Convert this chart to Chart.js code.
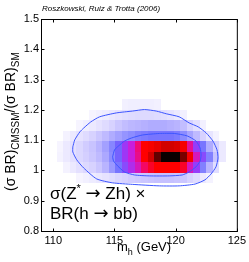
<!DOCTYPE html>
<html><head><meta charset="utf-8">
<script src="https://cdn.jsdelivr.net/npm/chart.js@4.4.1/dist/chart.umd.min.js"></script>
<style>html,body{margin:0;padding:0;background:#fff;overflow:hidden}</style>
</head><body>
<canvas id="c" width="249" height="262"></canvas>
<script>
// ---- data ----
const xTicks = [110, 115, 120, 125];
const xTickLabels = ['110', '115', '120', '125'];
const yTicks = [0.8, 0.9, 1.0, 1.1, 1.2, 1.3, 1.4, 1.5];
const yTickLabels = ['0.8', '0.9', '1', '1.1', '1.2', '1.3', '1.4', '1.5'];

// heat-map bin centres
const cellX = [110.57,111.10,111.63,112.16,112.69,113.22,113.75,114.28,114.81,115.34,115.87,116.40,116.93,
               117.46,117.99,118.52,119.05,119.58,120.11,120.64,121.17,121.70,122.23,122.76,123.29,123.82];
const cellY = [0.975, 1.009, 1.044, 1.079, 1.113, 1.148, 1.183, 1.218];
// relative posterior density, one row per cellY
const heat = [
 [0,0,0,0.05,0.07,0.09,0.11,0.13,0.15,0.18,0.2,0.22,0.23,0.24,0.25,0.26,0.26,0.26,0.25,0.24,0.2,0.16,0.1,0.06,0,0],
 [0,0.06,0.1,0.14,0.17,0.2,0.24,0.3,0.37,0.44,0.5,0.55,0.6,0.65,0.68,0.7,0.7,0.7,0.7,0.68,0.6,0.52,0.42,0.3,0.15,0],
 [0.06,0.1,0.14,0.18,0.21,0.24,0.28,0.33,0.4,0.47,0.53,0.58,0.63,0.7,0.8,0.92,1,1,1,0.9,0.72,0.6,0.5,0.42,0.25,0.1],
 [0.05,0.1,0.14,0.18,0.22,0.25,0.3,0.35,0.41,0.47,0.53,0.58,0.64,0.7,0.72,0.75,0.8,0.8,0.78,0.72,0.62,0.52,0.44,0.32,0.2,0.1],
 [0,0.06,0.1,0.13,0.16,0.2,0.24,0.28,0.32,0.35,0.38,0.4,0.42,0.43,0.44,0.44,0.44,0.44,0.43,0.4,0.34,0.28,0.2,0.12,0.06,0],
 [0,0,0,0.05,0.08,0.1,0.13,0.16,0.2,0.24,0.27,0.29,0.3,0.31,0.32,0.32,0.32,0.31,0.3,0.27,0.2,0.14,0.07,0,0,0],
 [0,0,0,0,0,0.05,0.07,0.09,0.11,0.13,0.15,0.16,0.17,0.17,0.17,0.16,0.15,0.13,0.1,0.07,0,0,0,0,0,0],
 [0,0,0,0,0,0,0,0,0,0,0.07,0.08,0.08,0.08,0.08,0.07,0,0,0,0,0,0,0,0,0,0]
];
// contours
const outerX = [111.60,111.76,112.17,112.49,113.06,113.79,115.17,116.47,117.45,118.42,119.24,120.29,121.10,121.84,122.49,123.05,123.38,123.46,123.30,122.89,122.40,121.59,120.29,118.67,116.47,114.85,113.55,112.49,111.92,111.60];
const outerY = [1.078,1.101,1.127,1.140,1.160,1.177,1.190,1.196,1.201,1.196,1.187,1.177,1.157,1.144,1.124,1.097,1.068,1.041,1.012,0.988,0.969,0.955,0.949,0.949,0.954,0.959,0.972,1.008,1.035,1.061];
const innerX = [114.85,115.01,115.34,115.82,116.39,117.29,118.67,119.89,120.94,121.67,122.00,122.08,122.00,121.67,121.10,120.54,119.48,117.85,116.64,115.82,115.26,114.93];
const innerY = [1.045,1.068,1.081,1.097,1.107,1.117,1.122,1.122,1.114,1.097,1.074,1.051,1.031,1.012,0.995,0.985,0.982,0.982,0.985,0.995,1.015,1.031];

// ---- style ----
const FONT = '"Liberation Sans", Arial, Helvetica, sans-serif';
const SYM = '"DejaVu Sans", sans-serif';
const CMAP = [
 [0.0,255,255,255],[0.08,240,238,255],[0.2,215,210,255],[0.3,185,180,255],[0.4,140,140,255],
 [0.46,110,105,255],[0.52,150,60,250],[0.58,200,30,220],[0.64,240,10,120],[0.7,255,0,0],
 [0.8,210,0,0],[0.9,120,0,0],[1.0,10,0,0]
];
function cmap(t){
  if (t <= 0) return null;
  for (let i=1;i<CMAP.length;i++){
    if (t <= CMAP[i][0]){
      const a=CMAP[i-1], b=CMAP[i], f=(t-a[0])/(b[0]-a[0]);
      return `rgb(${Math.round(a[1]+(b[1]-a[1])*f)},${Math.round(a[2]+(b[2]-a[2])*f)},${Math.round(a[3]+(b[3]-a[3])*f)})`;
    }
  }
  return 'rgb(10,0,0)';
}
function edges(c){
  const e=[c[0]-(c[1]-c[0])/2];
  for(let i=1;i<c.length;i++) e.push((c[i-1]+c[i])/2);
  e.push(c[c.length-1]+(c[c.length-1]-c[c.length-2])/2);
  return e;
}
const zip=(xs,ys)=>{const d=xs.map((x,i)=>({x,y:ys[i]}));d.push({x:xs[0],y:ys[0]});return d;};

function runs(ctx, x, baseline, parts){
  parts.forEach(([s,font,dy])=>{ctx.font=font; ctx.fillText(s,x,baseline+dy); x+=ctx.measureText(s).width;});
}

const heatPlugin = {
  id:'heat',
  beforeDatasetsDraw(chart){
    const {ctx, scales:{x,y}, chartArea:a} = chart;
    const ex=edges(cellX), ey=edges(cellY);
    ctx.save();
    ctx.beginPath(); ctx.rect(a.left,a.top,a.width,a.height); ctx.clip();
    for(let r=0;r<cellY.length;r++){
      const y1=Math.round(y.getPixelForValue(ey[r+1])), y0=Math.round(y.getPixelForValue(ey[r]));
      for(let c=0;c<cellX.length;c++){
        const col=cmap(heat[r][c]); if(!col) continue;
        const x0=Math.round(x.getPixelForValue(ex[c])), x1=Math.round(x.getPixelForValue(ex[c+1]));
        ctx.fillStyle=col; ctx.fillRect(x0,y1,x1-x0,y0-y1);
      }
    }
    ctx.restore();
  },
  afterDraw(chart){
    const {ctx, scales:{x,y}, chartArea:a} = chart;
    ctx.save();
    ctx.strokeStyle='#000'; ctx.lineWidth=1;
    const L=a.left+0.5, R=a.right+0.5, T=a.top+0.5, B=a.bottom+0.5;
    ctx.strokeRect(L,T,R-L,B-T);
    ctx.beginPath();
    xTicks.forEach(v=>{const p=Math.round(x.getPixelForValue(v))+0.5; ctx.moveTo(p,B);ctx.lineTo(p,B-3);ctx.moveTo(p,T);ctx.lineTo(p,T+3);});
    yTicks.forEach(v=>{const p=Math.round(y.getPixelForValue(v))+0.5; ctx.moveTo(L,p);ctx.lineTo(L+3,p);ctx.moveTo(R,p);ctx.lineTo(R-3,p);});
    ctx.stroke();
    ctx.fillStyle='#000'; ctx.textBaseline='alphabetic'; ctx.textAlign='left';
    // title
    ctx.font='italic 8px '+FONT;
    ctx.fillText('Roszkowski, Ruiz & Trotta (2006)', 42, 11);
    // x title
    runs(ctx,117,251,[['m','13px '+FONT,0],['h','9px '+FONT,4],[' (GeV)','13px '+FONT,0]]);
    // y title
    ctx.save(); ctx.translate(15,191); ctx.rotate(-Math.PI/2);
    runs(ctx,0,0,[['(σ BR)','14px '+FONT,0],['CMSSM','10px '+FONT,4],['/(σ BR)','14px '+FONT,0],['SM','10px '+FONT,4]]);
    ctx.restore();
    // annotation
    const F='17px '+FONT, A='18px '+SYM;
    runs(ctx,50,199,[['σ(Z',F,0],['*','11px '+FONT,-7],[' ',F,0],['→',A,0],[' Zh) ×',F,0]]);
    runs(ctx,50,219,[['BR(h ',F,0],['→',A,0],[' bb)',F,0]]);
    ctx.restore();
  }
};

new Chart(document.getElementById('c'), {
  type:'scatter',
  data:{datasets:[
    {data:zip(outerX,outerY), showLine:true, borderColor:'rgb(60,85,255)', borderWidth:1, pointRadius:0, tension:0.2, fill:false},
    {data:zip(innerX,innerY), showLine:true, borderColor:'rgb(60,85,255)', borderWidth:1, pointRadius:0, tension:0.2, fill:false}
  ]},
  options:{
    responsive:false, animation:false, devicePixelRatio:1,
    layout:{padding:{top:19,right:11,left:0,bottom:0}},
    plugins:{legend:{display:false}, tooltip:{enabled:false}, title:{display:false}},
    scales:{
      x:{type:'linear', min:109, max:125,
         afterBuildTicks:s=>{s.ticks=xTicks.map(v=>({value:v}));},
         afterFit:s=>{s.height=31;},
         grid:{display:false, drawTicks:false}, border:{display:false},
         ticks:{padding:3, color:'#000', font:{family:FONT,size:11}, maxRotation:0, autoSkip:false,
                callback:v=>xTickLabels[xTicks.indexOf(v)]}},
      y:{type:'linear', min:0.8, max:1.5,
         afterBuildTicks:s=>{s.ticks=yTicks.map(v=>({value:v}));},
         afterFit:s=>{s.width=41;},
         grid:{display:false, drawTicks:false}, border:{display:false},
         ticks:{padding:2, color:'#000', font:{family:FONT,size:11}, autoSkip:false,
                callback:v=>yTickLabels[yTicks.indexOf(v)]}}
    }
  },
  plugins:[heatPlugin]
});
</script>
</body></html>
